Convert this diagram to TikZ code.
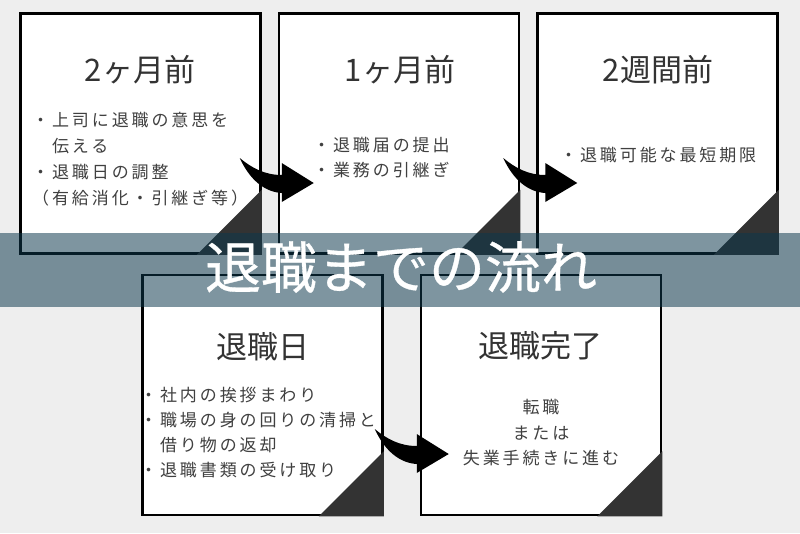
\documentclass[tikz,border=0pt]{standalone}
\usepackage{fontspec}
\usepackage{tikz}
\usetikzlibrary{positioning}
\newfontfamily\jp{Noto Sans CJK JP}
\newfontfamily\jpwide[LetterSpace=17]{Noto Sans CJK JP}
\newfontfamily\jpband[FakeBold=0.6]{Noto Sans CJK JP}
\definecolor{paper}{RGB}{238,238,238}
\definecolor{inkgray}{RGB}{51,51,51}
\definecolor{textgray}{RGB}{64,64,64}
\definecolor{bandcol}{RGB}{13,55,76}

\begin{document}
\begin{tikzpicture}[x=1pt,y=-1pt,
card/.style={draw=black,fill=white,line width=2.5pt,minimum width=240pt,minimum height=240pt,inner sep=0pt},
corner/.style={fill=inkgray},
ttl/.style={text=inkgray,font=\jp\fontsize{31}{36}\selectfont,inner sep=0pt},
body/.style={text=textgray,font=\jpwide\fontsize{17}{26}\selectfont,inner sep=0pt},
bendarrow/.pic={
\fill[black] (0,0) .. controls (10,22) and (25,34) .. (42,35) -- (42,44) -- (74,25)
 -- (42,5) -- (42,17) .. controls (25,17) and (12,10) .. (0,0);
}]
\fill[paper] (0,0) rectangle (800,533);
\useasboundingbox (0,0) rectangle (800,533);

% cards
\node[card] (b1) at (140.5,133.5) {};
\node[card] (b2) at (399,133.5) {};
\node[card] (b3) at (657.5,133.5) {};
\node[card] (b4) at (262.5,395) {};
\node[card] (b5) at (541,395) {};
\foreach \b in {b1,b2,b3,b4,b5}
\fill[corner] (\b.south east) -- ++(-65,0) -- ++(65,-65) -- cycle;

% titles
\node[ttl] (t1) at (140,70) {2ヶ月前};
\node[ttl] (t2) at (400,70) {1ヶ月前};
\node[ttl] (t3) at (658,70) {2週間前};
\node[ttl] (t4) at (263,347) {退職日};
\node[ttl] (t5) at (540,346) {退職完了};

% items
\foreach \t [count=\i] in {・上司に退職の意思を,　伝える,・退職日の調整,（有給消化・引継ぎ等）}
\node[body,anchor=west] (b1l\i) at (32,94+26*\i) {\t};
\foreach \t [count=\i] in {・退職届の提出,・業務の引継ぎ}
\node[body,anchor=west] (b2l\i) at (313,120+25*\i) {\t};
\node[body,anchor=west] (b3l1) at (560,155) {・退職可能な最短期限};
\foreach \t [count=\i] in {・社内の挨拶まわり,・職場の身の回りの清掃と,　借り物の返却,・退職書類の受け取り}
\node[body,anchor=west] (b4l\i) at (140,370+25*\i) {\t};
\foreach \t [count=\i] in {転職,または,失業手続きに進む}
\node[body] (b5l\i) at (541,382+25.5*\i) {\t};

% arrows
\coordinate (a1) at ([shift={(-22,24.5)}]b1.east);
\coordinate (a2) at ([shift={(-17,24.5)}]b2.east);
\coordinate (a3) at ([shift={(-9,34)}]b4.east);
\pic at (a1) {bendarrow};
\pic at (a2) {bendarrow};
\pic at (a3) {bendarrow};

% band
\fill[bandcol,opacity=.53] (0,233) rectangle (800,307);
\node[text=white,font=\jpband\fontsize{56}{60}\selectfont] (head) at (401,267) {退職までの流れ};
\end{tikzpicture}
\end{document}
